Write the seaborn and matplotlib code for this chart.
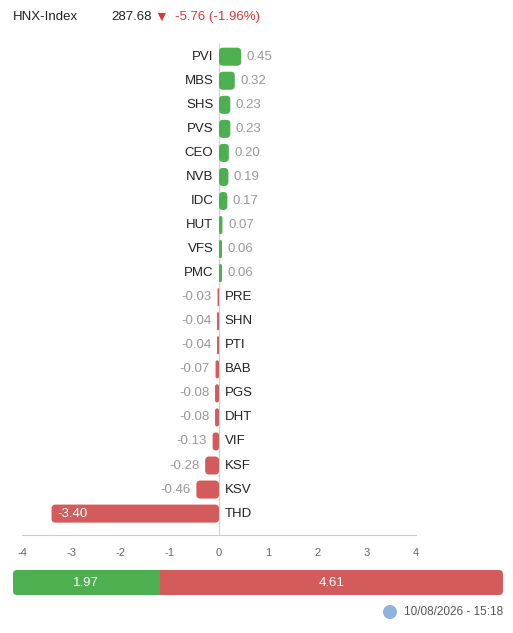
import matplotlib
matplotlib.use('Agg')
import matplotlib.pyplot as plt
import seaborn as sns
from matplotlib.patches import FancyBboxPatch, Circle

# du lieu
tickers = ['PVI', 'MBS', 'SHS', 'PVS', 'CEO', 'NVB', 'IDC', 'HUT', 'VFS', 'PMC',
           'PRE', 'SHN', 'PTI', 'BAB', 'PGS', 'DHT', 'VIF', 'KSF', 'KSV', 'THD']
changes = [0.45, 0.32, 0.23, 0.23, 0.20, 0.19, 0.17, 0.07, 0.06, 0.06,
           -0.03, -0.04, -0.04, -0.07, -0.08, -0.08, -0.13, -0.28, -0.46, -3.40]
up_total = 1.97
down_total = 4.61
index_name = 'HNX-Index'
index_value = '287.68'
index_change = '-5.76 (-1.96%)'
timestamp = '10/08/2026 - 15:18'

GREEN = '#4caf50'
RED = '#d45b5b'
W, H = 513, 633

sns.set_style('white')
plt.rcParams['font.family'] = ['Liberation Sans', 'DejaVu Sans']
plt.rcParams['axes.unicode_minus'] = False


def px_rect(l, t, r, b):
    return [l / W, 1 - b / H, (r - l) / W, (b - t) / H]


fig = plt.figure(figsize=(W / 100, H / 100), dpi=100)

# bieu do chinh
ax = fig.add_axes(px_rect(22, 43, 416, 535))
colors = [GREEN if v >= 0 else RED for v in changes]
sns.barplot(x=changes, y=tickers, hue=tickers, palette=colors, orient='h',
            width=0.75, saturation=1, legend=False, ax=ax)
ax.set_xlim(-4, 4)
ax.set_ylim(19.89, -0.57)

# bo goc cac thanh
x_px = (416 - 22) / 8
y_px = (535 - 43) / 20.46
aspect = x_px / y_px
r0 = 4 / x_px
for p in list(ax.patches):
    x, y, w, h = p.get_x(), p.get_y(), p.get_width(), p.get_height()
    if w < 0:
        x, w = x + w, -w
    rs = min(r0, w / 2, h / (2 * aspect))
    fb = FancyBboxPatch((x, y), w, h,
                        boxstyle=f'round,pad=0,rounding_size={rs}',
                        mutation_aspect=aspect, fc=p.get_facecolor(),
                        ec='none', zorder=3)
    p.remove()
    ax.add_patch(fb)

ax.axvline(0, color='#d0d0d0', lw=0.8, zorder=1)

for i, (t, v) in enumerate(zip(tickers, changes)):
    if v >= 0:
        ax.annotate(t, (0, i), xytext=(-4, 0), textcoords='offset points',
                    ha='right', va='center', fontsize=9.5, color='#222')
        ax.annotate(f'{v:.2f}', (v, i), xytext=(4, 0), textcoords='offset points',
                    ha='left', va='center', fontsize=9.5, color='#999')
    else:
        ax.annotate(t, (0, i), xytext=(4, 0), textcoords='offset points',
                    ha='left', va='center', fontsize=9.5, color='#222')
        if v < -2:
            ax.annotate(f'{v:.2f}', (v, i), xytext=(4, 0), textcoords='offset points',
                        ha='left', va='center', fontsize=9.5, color='white', zorder=5)
        else:
            ax.annotate(f'{v:.2f}', (v, i), xytext=(-4, 0), textcoords='offset points',
                        ha='right', va='center', fontsize=9.5, color='#999')

sns.despine(ax=ax, left=True)
ax.spines['bottom'].set_color('#cccccc')
ax.set_yticks([])
ax.set_xticks(range(-4, 5))
ax.tick_params(axis='x', length=7, color='#cccccc', labelcolor='#666', labelsize=8, pad=2)
ax.set_xlabel('')
ax.set_ylabel('')

# thanh tong
bx = fig.add_axes(px_rect(13, 570, 503, 595))
total = up_total + down_total
b1 = bx.barh(0.5, up_total, height=1, color=GREEN, linewidth=0)
b2 = bx.barh(0.5, down_total, left=up_total, height=1, color=RED, linewidth=0)
bx.set_xlim(0, total)
bx.set_ylim(0, 1)
bx.axis('off')
bpx = 490 / total
basp = bpx / 25
clip = FancyBboxPatch((0, 0), total, 1, boxstyle=f'round,pad=0,rounding_size={4 / bpx}',
                      mutation_aspect=basp, transform=bx.transData, fc='none', ec='none')
bx.add_patch(clip)
for bar in list(b1) + list(b2):
    bar.set_clip_path(clip)
bx.text(up_total / 2, 0.5, f'{up_total:.2f}', ha='center', va='center', color='white', fontsize=9.5)
bx.text(up_total + down_total / 2, 0.5, f'{down_total:.2f}', ha='center', va='center',
        color='white', fontsize=9.5)

# tieu de
fig.text(13 / W, 1 - 17 / H, index_name, ha='left', va='center', fontsize=9.5, color='#222')
fig.text(111 / W, 1 - 17 / H, index_value, ha='left', va='center', fontsize=9.5, color='#222')
fig.text(154 / W, 1 - 17 / H, '▼', ha='left', va='center', fontsize=10, color='#e8322f')
fig.text(175 / W, 1 - 17 / H, index_change, ha='left', va='center', fontsize=9.5, color='#e8322f')

# chan trang
fig.text(503 / W, 1 - 612 / H, timestamp, ha='right', va='center', fontsize=8.5, color='#555')
fig.add_artist(Circle((3.90, (H - 612) / 100), 0.07, transform=fig.dpi_scale_trans,
                      fc='#8fb3dd', ec='none'))

fig.savefig('out.png', dpi=100)
